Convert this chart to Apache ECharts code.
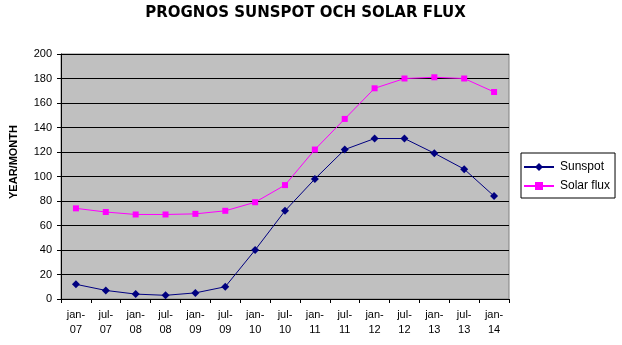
<!DOCTYPE html>
<html><head><meta charset="utf-8">
<script src="https://cdn.jsdelivr.net/npm/echarts@6/dist/echarts.min.js"></script>
<style>html,body{margin:0;padding:0;background:#fff}#c{width:622px;height:345px}</style>
</head><body><div id="c"></div>
<script>
const categories = ['jan-\n07','jul-\n07','jan-\n08','jul-\n08','jan-\n09','jul-\n09','jan-\n10','jul-\n10','jan-\n11','jul-\n11','jan-\n12','jul-\n12','jan-\n13','jul-\n13','jan-\n14'];
const sunspot = [12, 7, 4, 3, 5, 10, 40, 72, 98, 122, 131, 131, 119, 106, 84];
const solarFlux = [74, 71, 69, 69, 69.5, 72, 79, 93, 122, 147, 172, 180, 181, 180, 169];
const yTicks = {min: 0, max: 200, interval: 20};

const chart = echarts.init(document.getElementById('c'), null, {renderer: 'canvas'});
const font = 'Arial, "Liberation Sans", sans-serif';
chart.setOption({
  animation: false,
  backgroundColor: '#ffffff',
  graphic: [{
    type: 'text',
    x: 305.5, y: 13,
    style: {text: 'PROGNOS SUNSPOT OCH SOLAR FLUX', fontFamily: '"DejaVu Sans", sans-serif', fontSize: 15, fontWeight: 'bold', fill: '#000', align: 'center', verticalAlign: 'middle'}
  }, {
    type: 'text',
    x: 14, y: 162,
    rotation: Math.PI / 2,
    style: {text: 'YEAR/MONTH', fontFamily: font, fontSize: 11, fontWeight: 'bold', fill: '#000', align: 'center', verticalAlign: 'middle'}
  }],
  legend: {
    orient: 'vertical',
    left: 521, top: 153,
    width: 92,
    backgroundColor: '#fff',
    borderColor: '#000', borderWidth: 1,
    padding: [8, 5, 6, 2],
    itemGap: 7,
    itemWidth: 30, itemHeight: 10,
    textStyle: {fontFamily: font, fontSize: 12, color: '#000', padding: [0, 0, 0, 1]},
    data: ['Sunspot', 'Solar flux']
  },
  grid: {
    left: 61, right: 113, top: 54, bottom: 46,
    show: true, backgroundColor: '#c0c0c0', borderColor: '#808080', borderWidth: 1
  },
  xAxis: {
    type: 'category',
    data: categories,
    boundaryGap: true,
    axisLine: {lineStyle: {color: '#000', width: 1}},
    axisTick: {show: true, length: 4, lineStyle: {color: '#000'}},
    axisLabel: {fontFamily: font, fontSize: 11, color: '#000', margin: 8, lineHeight: 15, interval: 0}
  },
  yAxis: {
    type: 'value',
    min: yTicks.min, max: yTicks.max, interval: yTicks.interval,
    axisLine: {show: true, lineStyle: {color: '#000', width: 1}},
    axisTick: {show: true, length: 4, lineStyle: {color: '#000'}},
    axisLabel: {fontFamily: font, fontSize: 11, color: '#000', margin: 9},
    splitLine: {show: true, lineStyle: {color: '#000', width: 1}}
  },
  series: [
    {
      name: 'Sunspot', type: 'line', data: sunspot,
      symbol: 'diamond', symbolSize: 8,
      lineStyle: {color: '#000080', width: 1},
      itemStyle: {color: '#000080'}
    },
    {
      name: 'Solar flux', type: 'line', data: solarFlux,
      symbol: 'rect', symbolSize: 6,
      lineStyle: {color: '#ff00ff', width: 1},
      itemStyle: {color: '#ff00ff'}
    }
  ]
});
</script></body></html>
